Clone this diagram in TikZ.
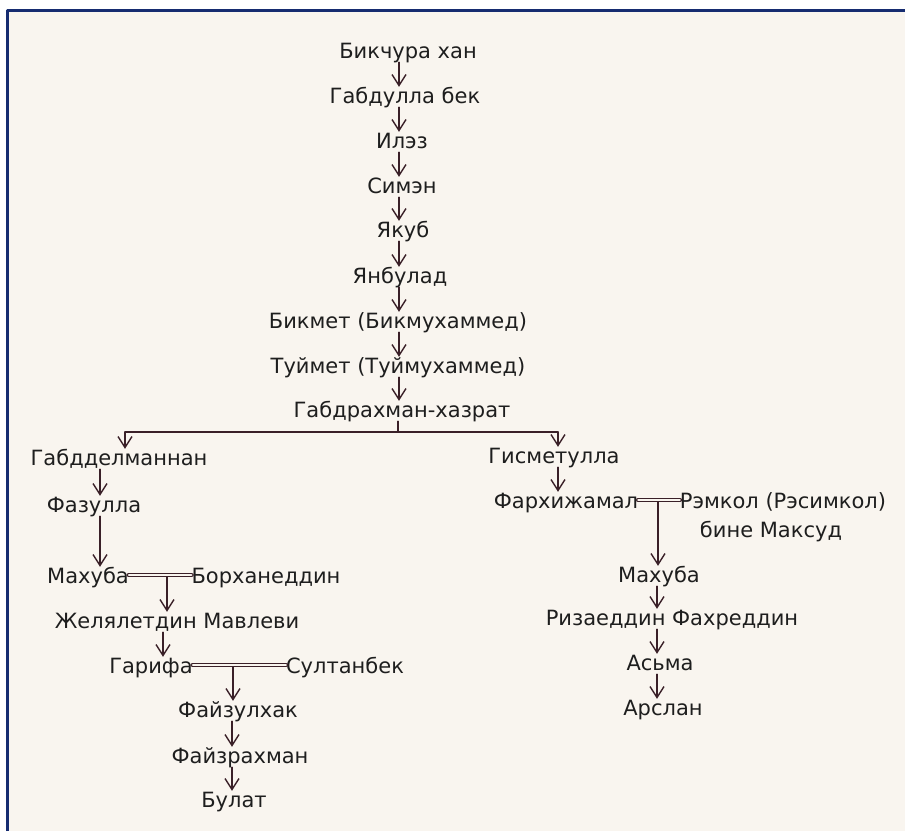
\documentclass[tikz,border=0pt]{standalone}
\usepackage{fontspec}
\setmainfont{DejaVu Sans}
\usetikzlibrary{calc,arrows.meta,positioning}

\definecolor{paper}{RGB}{249,245,239}
\definecolor{frame}{RGB}{22,44,112}
\definecolor{ink}{RGB}{58,32,40}
\definecolor{txt}{RGB}{30,30,30}

\begin{document}
\begin{tikzpicture}[line cap=round,line join=round,x=1pt,y=-1pt,
  nm/.style={anchor=base,inner sep=0pt,text height=16pt,text depth=4pt,text=txt,font=\fontsize{21}{25}\selectfont},
  arr/.style={draw=ink,line width=1.4pt,-{Straight Barb[length=11pt,width=14pt]}},
  lin/.style={draw=ink,line width=1.4pt},
  wed/.style={draw=ink,line width=1.2pt,double=paper,double distance=2.5pt}]
\useasboundingbox (0,0) rectangle (905,831);
\fill[white] (0,0) rectangle (905,831);
\fill[paper] (7,10) rectangle (905,831);
\draw[frame,line width=3pt,line cap=butt] (7,831) -- (7,10) -- (905,10);

% main line
\node[nm] (bikchura) at (408,58) {Бикчура хан};
\node[nm] (gabdulla) at (405,103) {Габдулла бек};
\node[nm] (ilez) at (402,148) {Илэз};
\node[nm] (simen) at (402,193) {Симэн};
\node[nm] (yakub) at (403,237) {Якуб};
\node[nm] (yanbulad) at (400,283) {Янбулад};
\node[nm] (bikmet) at (398,328) {Бикмет (Бикмухаммед)};
\node[nm] (tuymet) at (398,373) {Туймет (Туймухаммед)};
\node[nm] (hazrat) at (402,417) {Габдрахман-хазрат};

\coordinate (trunk) at (399,0);
\foreach \a/\b in {bikchura/gabdulla,gabdulla/ilez,ilez/simen,simen/yakub,
  yakub/yanbulad,yanbulad/bikmet,bikmet/tuymet,tuymet/hazrat}
  \draw[arr] (\a.south -| trunk) -- (\b.north -| trunk);

% left branch
\node[nm] (mannan) at (119,465) {Габдделманнан};
\node[nm] (fazulla) at (94,512) {Фазулла};
\node[nm] (mahubaL) at (88,583) {Махуба};
\node[nm] (burhan) at (266,583) {Борханеддин};
\node[nm] (jelal) at (177,628) {Желялетдин Мавлеви};
\node[nm] (garifa) at (151,673) {Гарифа};
\node[nm] (sultanbek) at (345,673) {Султанбек};
\node[nm] (fayzulhak) at (238,717) {Файзулхак};
\node[nm] (fayzrahman) at (240,763) {Файзрахман};
\node[nm] (bulat) at (234,807) {Булат};

% right branch
\node[nm] (gismet) at (554,463) {Гисметулла};
\node[nm] (farhi) at (566,508) {Фархижамал};
\node[nm] (remkol) at (783,508) {Рэмкол (Рэсимкол)};
\node[nm] (maksud) at (771,537) {бине Максуд};
\node[nm] (mahubaR) at (659,582) {Махуба};
\node[nm] (rizaeddin) at (672,625) {Ризаеддин Фахреддин};
\node[nm] (asma) at (660,670) {Асьма};
\node[nm] (arslan) at (663,715) {Арслан};

% fork
\coordinate (fork) at (398,432);
\coordinate (forkL) at (125,432);
\coordinate (forkR) at (558,432);
\draw[lin] (hazrat.south -| fork) -- (fork);
\draw[lin] (forkL) -- (forkR);
\draw[arr] (forkL) -- (forkL |- mannan.north);
\draw[arr] (forkR) -- (forkR |- gismet.north);

% left side
\coordinate (colA) at (100,0);
\draw[arr] (mannan.south -| colA) -- (fazulla.north -| colA);
\draw[arr] (fazulla.south -| colA) -- (mahubaL.north -| colA);
\draw[wed] ([yshift=2pt]mahubaL.east) -- ([yshift=2pt]burhan.west);
\coordinate (mar1) at (167,577);
\draw[arr] (mar1) -- (mar1 |- jelal.north);
\coordinate (colB) at (163,0);
\draw[arr] (jelal.south -| colB) -- (garifa.north -| colB);
\draw[wed] ([yshift=2pt]garifa.east) -- ([yshift=2pt]sultanbek.west);
\coordinate (mar2) at (233,667);
\draw[arr] (mar2) -- (mar2 |- fayzulhak.north);
\coordinate (colC) at (232,0);
\draw[arr] (fayzulhak.south -| colC) -- (fayzrahman.north -| colC);
\draw[arr] (fayzrahman.south -| colC) -- (bulat.north -| colC);

% right side
\draw[arr] (gismet.south -| forkR) -- (farhi.north -| forkR);
\draw[wed] ([yshift=2pt]farhi.east) -- ([yshift=2pt]remkol.west);
\coordinate (mar3) at (658,502);
\draw[arr] (mar3) -- (mar3 |- mahubaR.north);
\coordinate (colD) at (657,0);
\foreach \a/\b in {mahubaR/rizaeddin,rizaeddin/asma,asma/arslan}
  \draw[arr] (\a.south -| colD) -- (\b.north -| colD);
\end{tikzpicture}
\end{document}
